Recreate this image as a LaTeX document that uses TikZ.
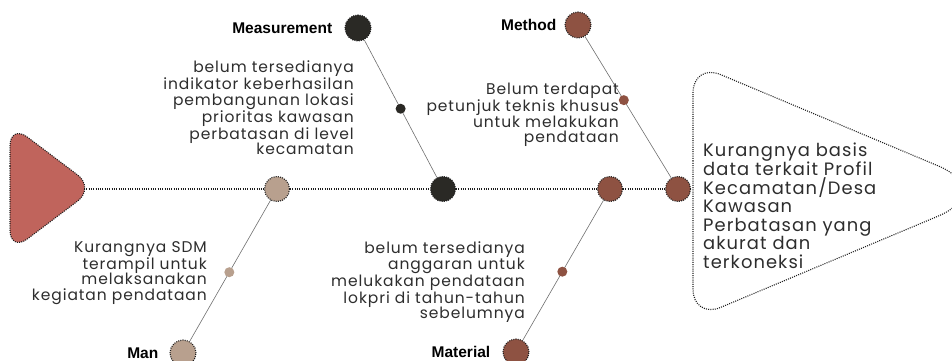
\documentclass[tikz,border=0pt]{standalone}
\usepackage{fontspec}
\usepackage{tikz}
\usetikzlibrary{positioning}
\newfontfamily\notefont{Poppins}[LetterSpace=6.0]
\newfontfamily\catfont{Liberation Sans}
\definecolor{tailred}{RGB}{192,100,92}
\definecolor{mantan}{RGB}{184,160,142}
\definecolor{measdark}{RGB}{42,41,37}
\definecolor{matbrown}{RGB}{142,82,66}
\definecolor{dotline}{RGB}{30,30,30}
\definecolor{branchgray}{RGB}{110,110,110}
\definecolor{notegray}{RGB}{45,45,45}

\begin{document}
\begin{tikzpicture}[
        x=1pt, y=-1pt,
        spine/.style={draw=dotline, line width=1.4pt, dash pattern=on 1pt off 1.3pt},
        rim/.style={draw=dotline, line width=1.1pt, dash pattern=on 1pt off 1.2pt},
        bigdot/.style={circle, rim, minimum size=26pt, inner sep=0pt},
        spinedot/.style={circle, rim, minimum size=25pt, inner sep=0pt},
        smalldot/.style={circle, minimum size=10pt, inner sep=0pt},
        branch/.style={draw=branchgray, line width=0.6pt},
        cat/.style={font=\catfont\bfseries\fontsize{15.5}{17}\selectfont, inner sep=0pt},
        note/.style={font=\notefont\fontsize{15.5}{15.6}\selectfont, text=notegray, align=right, inner sep=0pt, anchor=north east},
    ]
        \useasboundingbox (0,0) rectangle (952,361);

        \draw[rim, fill=tailred, rounded corners=22pt] (10,188) -- (10,124) -- (95,188) -- (10,252) -- cycle;
        \coordinate (tailtip) at (84,189);

        \draw[rim, rounded corners=30pt] (693,191) -- (693,63) -- (845.5,127) [rounded corners=65pt] -- (998,191) -- (845.5,255) [rounded corners=30pt] -- (693,319) -- cycle;
        \node[font=\notefont\fontsize{17.9}{18.6}\selectfont, text=notegray, align=left, inner sep=0pt, anchor=north west] (effect) at (703,143) {Kurangnya basis\\data terkait Profil\\Kecamatan/Desa\\Kawasan\\Perbatasan yang\\akurat dan\\terkoneksi};

        \node[spinedot, fill=mantan] (manspine) at (277,189) {};
        \node[spinedot, fill=measdark] (measspine) at (443,189) {};
        \node[spinedot, fill=matbrown] (matspine) at (610,189) {};
        \node[spinedot, fill=matbrown] (methspine) at (678,189) {};
        \draw[spine] (tailtip) -- (manspine) -- (measspine) -- (matspine) -- (methspine);

        \node[bigdot, fill=measdark] (meastop) at (358,28) {};
        \node[cat, left=12pt of meastop] (measlabel) {Measurement};
        \draw[branch] (meastop) -- node[smalldot, fill=measdark, pos=0.5] (measnote) {} (measspine);
        \node[note] (meastext) at (354,61) {belum tersedianya\\indikator keberhasilan\\pembangunan lokasi\\prioritas kawasan\\perbatasan di level\\kecamatan};

        \node[bigdot, fill=matbrown] (methtop) at (578,25) {};
        \node[cat, left=8pt of methtop] (methlabel) {Method};
        \draw[branch] (methtop) -- node[smalldot, fill=matbrown, pos=0.45] (methnote) {} (methspine);
        \node[note] (methtext) at (619,83) {Belum terdapat\\petunjuk teknis khusus\\untuk melakukan\\pendataan};

        \node[bigdot, fill=mantan] (manbot) at (183,353) {};
        \node[cat, left=11pt of manbot] (manlabel) {Man};
        \draw[branch] (manbot) -- node[smalldot, fill=mantan, pos=0.49] (mannote) {} (manspine);
        \node[note] (mantext) at (207,241) {Kurangnya SDM\\terampil untuk\\melaksanakan\\kegiatan pendataan};

        \node[bigdot, fill=matbrown] (matbot) at (516,352) {};
        \node[cat, left=12pt of matbot] (matlabel) {Material};
        \draw[branch] (matbot) -- node[smalldot, fill=matbrown, pos=0.49] (matnote) {} (matspine);
        \node[note] (mattext) at (525,242) {belum tersedianya\\anggaran untuk\\melukakan pendataan\\lokpri di tahun-tahun\\sebelumnya};
    \end{tikzpicture}
\end{document}
